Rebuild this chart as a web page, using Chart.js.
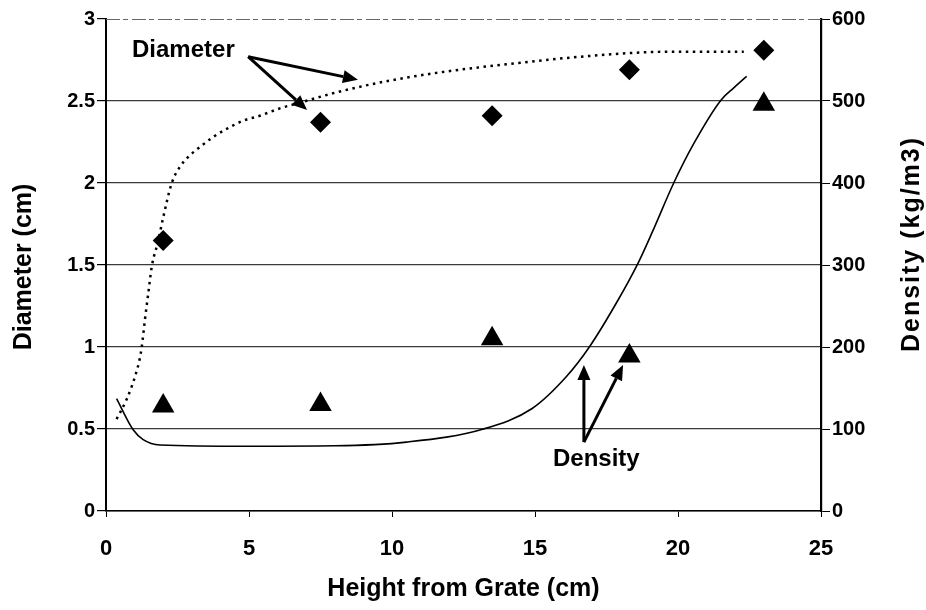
<!DOCTYPE html>
<html>
<head>
<meta charset="utf-8">
<script src="https://cdn.jsdelivr.net/npm/chart.js@4.4.1/dist/chart.umd.min.js"></script>
<style>
  html, body { margin: 0; padding: 0; background: #fff; }
  #wrap { width: 926px; height: 610px; position: relative; }
</style>
</head>
<body>
<div id="wrap"><canvas id="chartBed"></canvas></div>
<script>
// measured heights above the grate (cm)
const heights = [2, 7.5, 13.5, 18.3, 23];
const diameterPts = [1.65, 2.37, 2.41, 2.69, 2.81];
const densityPts = [128, 130, 210, 189, 496];

// fitted trend for diameter (dotted)
const diamFitX = [0.37, 0.72, 0.9, 1.05, 1.17, 1.25, 1.36, 1.48, 1.6, 1.83, 2.0, 2.3, 2.59, 2.88, 3.29, 3.74, 4.22, 4.8, 5.38, 6.08, 6.78, 8.0, 9.5, 11.5, 13.8, 17.3, 19.6, 22.3];
const diamFitY = [0.56, 0.68, 0.76, 0.84, 0.92, 1.0, 1.165, 1.33, 1.49, 1.65, 1.79, 2.0, 2.1, 2.16, 2.22, 2.28, 2.33, 2.38, 2.41, 2.455, 2.49, 2.55, 2.61, 2.67, 2.72, 2.78, 2.8, 2.8];

// fitted trend for density (solid)
const densFitX = [0.37, 0.95, 1.3, 1.89, 5, 8, 10.5, 13.2, 14.9, 16.1, 16.9, 17.9, 18.6, 19.1, 19.85, 20.55, 21.5, 21.95, 22.4];
const densFitY = [137, 99, 87, 80.5, 79, 79.5, 84, 100, 125, 164, 200, 257, 302, 340, 400, 448, 501, 516, 530];

// callout labels: text position and arrow tips, in data units of the given axis
const calloutText = ['Diameter', 'Density'];
const calloutAxis = ['y', 'y2'];
const calloutAt = [[0.91, 2.77], [15.63, 55]];
const calloutFrom = [[4.97, 2.77], [16.71, 84]];
const calloutTips = [[[8.81, 2.63], [7.03, 2.445]], [[16.71, 178], [18.08, 178]]];

const titleX = 'Height from Grate (cm)';
const titleY = 'Diameter (cm)';
const titleY2 = 'Density (kg/m3)';

const toXY = (xs, ys) => xs.map((x, i) => ({ x: x, y: ys[i] }));

const boldFont = size => ({ family: 'Liberation Sans, Arial, sans-serif', size: size, weight: 'bold' });

function arrow(ctx, x0, y0, x1, y1) {
  const ang = Math.atan2(y1 - y0, x1 - x0);
  const head = 15, half = 6.5;
  const bx = x1 - Math.cos(ang) * head, by = y1 - Math.sin(ang) * head;
  ctx.beginPath();
  ctx.moveTo(x0, y0);
  ctx.lineTo(bx, by);
  ctx.stroke();
  ctx.beginPath();
  ctx.moveTo(x1, y1);
  ctx.lineTo(bx - Math.sin(ang) * half, by + Math.cos(ang) * half);
  ctx.lineTo(bx + Math.sin(ang) * half, by - Math.cos(ang) * half);
  ctx.closePath();
  ctx.fill();
}

const extras = {
  id: 'extras',
  afterDatasetsDraw(chart) {
    const { ctx, chartArea: a, scales } = chart;
    ctx.save();

    // faint broken top frame
    ctx.strokeStyle = '#666';
    ctx.lineWidth = 1;
    ctx.setLineDash([14, 3, 5, 4]);
    ctx.beginPath();
    ctx.moveTo(a.left, a.top + 0.5);
    ctx.lineTo(a.right, a.top + 0.5);
    ctx.stroke();
    ctx.setLineDash([]);

    // callouts
    ctx.fillStyle = '#000';
    ctx.strokeStyle = '#000';
    ctx.lineWidth = 3;
    ctx.font = 'bold 24px "Liberation Sans", Arial, sans-serif';
    ctx.textBaseline = 'alphabetic';
    ctx.textAlign = 'left';
    calloutText.forEach((txt, i) => {
      const ys = scales[calloutAxis[i]];
      ctx.fillText(txt, scales.x.getPixelForValue(calloutAt[i][0]), ys.getPixelForValue(calloutAt[i][1]));
      const x0 = scales.x.getPixelForValue(calloutFrom[i][0]);
      const y0 = ys.getPixelForValue(calloutFrom[i][1]);
      calloutTips[i].forEach(t => {
        arrow(ctx, x0, y0, scales.x.getPixelForValue(t[0]), ys.getPixelForValue(t[1]));
      });
    });

    // axis titles
    ctx.font = 'bold 25px "Liberation Sans", Arial, sans-serif';
    ctx.textAlign = 'center';
    ctx.textBaseline = 'middle';
    ctx.fillText(titleX, (a.left + a.right) / 2, 589);

    ctx.save();
    ctx.translate(24, (a.top + a.bottom) / 2 + 2);
    ctx.rotate(-Math.PI / 2);
    ctx.fillText(titleY, 0, 0);
    ctx.restore();

    ctx.save();
    ctx.translate(912, 244);
    ctx.rotate(-Math.PI / 2);
    ctx.letterSpacing = '2px';
    ctx.fillText(titleY2, 0, 0);
    ctx.restore();

    ctx.restore();
  }
};

new Chart(document.getElementById('chartBed').getContext('2d'), {
  type: 'scatter',
  data: {
    datasets: [
      {
        label: 'Diameter fit',
        type: 'line',
        data: toXY(diamFitX, diamFitY),
        yAxisID: 'y',
        borderColor: '#000',
        borderWidth: 2.5,
        borderDash: [2.5, 4.5],
        pointRadius: 0,
        cubicInterpolationMode: 'monotone',
        fill: false
      },
      {
        label: 'Density fit',
        type: 'line',
        data: toXY(densFitX, densFitY),
        yAxisID: 'y2',
        borderColor: '#000',
        borderWidth: 1.6,
        pointRadius: 0,
        cubicInterpolationMode: 'monotone',
        fill: false
      },
      {
        label: 'Diameter',
        data: toXY(heights, diameterPts),
        yAxisID: 'y',
        pointStyle: 'rectRot',
        pointRadius: 10.5,
        backgroundColor: '#000',
        borderColor: '#000',
        borderWidth: 0
      },
      {
        label: 'Density',
        data: toXY(heights, densityPts),
        yAxisID: 'y2',
        pointStyle: 'triangle',
        pointRadius: 13,
        backgroundColor: '#000',
        borderColor: '#000',
        borderWidth: 0
      }
    ]
  },
  options: {
    responsive: true,
    maintainAspectRatio: false,
    animation: false,
    layout: { padding: { top: 19, left: 0, right: 0, bottom: 0 } },
    plugins: {
      legend: { display: false },
      tooltip: { enabled: false }
    },
    scales: {
      x: {
        type: 'linear',
        min: 0,
        max: 25,
        ticks: { stepSize: 5, color: '#000', font: boldFont(22), padding: 19, maxRotation: 0 },
        grid: { drawOnChartArea: false, tickLength: 6, color: '#000', tickColor: '#000' },
        border: { color: '#000', width: 1.5 },
        afterFit: s => { s.height = 99; }
      },
      y: {
        position: 'left',
        min: 0,
        max: 3,
        ticks: { stepSize: 0.5, color: '#000', font: boldFont(20), padding: 2, callback: v => String(v) },
        grid: {
          color: c => (c.tick && c.tick.value === 3) ? 'rgba(0,0,0,0)' : '#3a3a3a',
          lineWidth: 1.2,
          tickLength: 9,
          tickColor: '#000'
        },
        border: { color: '#000', width: 2 },
        afterFit: s => { s.width = 106; }
      },
      y2: {
        position: 'right',
        min: 0,
        max: 600,
        ticks: { stepSize: 100, color: '#000', font: boldFont(20), padding: 2 },
        grid: { drawOnChartArea: false, tickLength: 9, color: '#000', tickColor: '#000' },
        border: { color: '#000', width: 2.2 },
        afterFit: s => { s.width = 105; }
      }
    }
  },
  plugins: [extras]
});
</script>
</body>
</html>
